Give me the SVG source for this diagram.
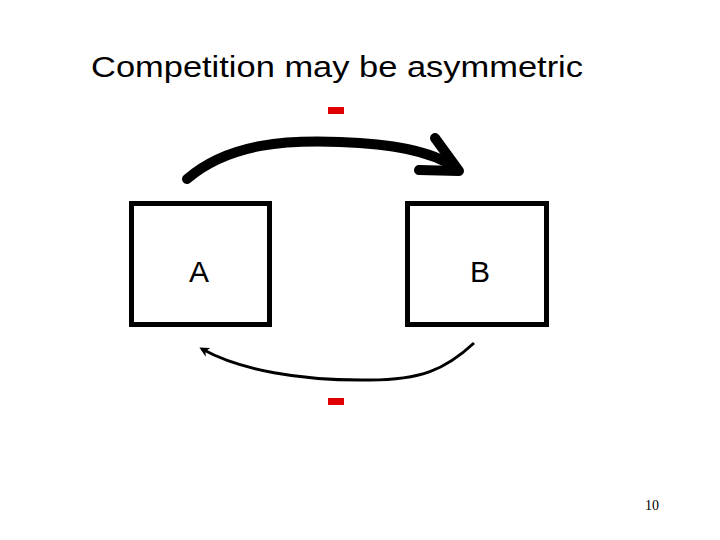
<svg xmlns="http://www.w3.org/2000/svg" width="720" height="540" viewBox="0 0 720 540">
<style>
.box{fill:#fff;stroke:#000;stroke-width:5}
.lbl{font-family:"Liberation Sans",Arial,sans-serif;font-size:30px;fill:#000}
.minus{fill:#e00000}
</style>
<defs>
<marker id="ah" markerWidth="10" markerHeight="10" refX="7" refY="5" orient="auto" markerUnits="userSpaceOnUse">
<path d="M0,0 L10,5 L0,10 L3,5 Z" fill="#000"/>
</marker>
</defs>
<rect width="720" height="540" fill="#fff"/>
<text x="91" y="77" font-family="Liberation Sans,Arial,sans-serif" font-size="29" textLength="492" lengthAdjust="spacingAndGlyphs">Competition may be asymmetric</text>
<g id="nodeA"><rect class="box" x="131.5" y="203.5" width="138" height="121"/><text class="lbl" x="199" y="282" text-anchor="middle">A</text></g>
<g id="nodeB"><rect class="box" x="407.5" y="203.5" width="139" height="121"/><text class="lbl" x="480" y="282" text-anchor="middle">B</text></g>
<g id="connectors">
<path d="M187,179 C230,142 290,140 340,142 C390,144 430,150 456,168" fill="none" stroke="#000" stroke-width="10" stroke-linecap="round"/>
<path d="M435,138 L459,171 L419,170" fill="none" stroke="#000" stroke-width="10" stroke-linecap="round" stroke-linejoin="round"/>
<path d="M474,343 C445,370 420,380 370,380 C300,381 240,370 202,349" fill="none" stroke="#000" stroke-width="3" marker-end="url(#ah)"/>
</g>
<rect class="minus" x="328" y="107" width="16" height="7"/>
<rect class="minus" x="328" y="398" width="16" height="7"/>
<text x="645" y="510" font-family="Liberation Serif,serif" font-size="14">10</text>
</svg>
